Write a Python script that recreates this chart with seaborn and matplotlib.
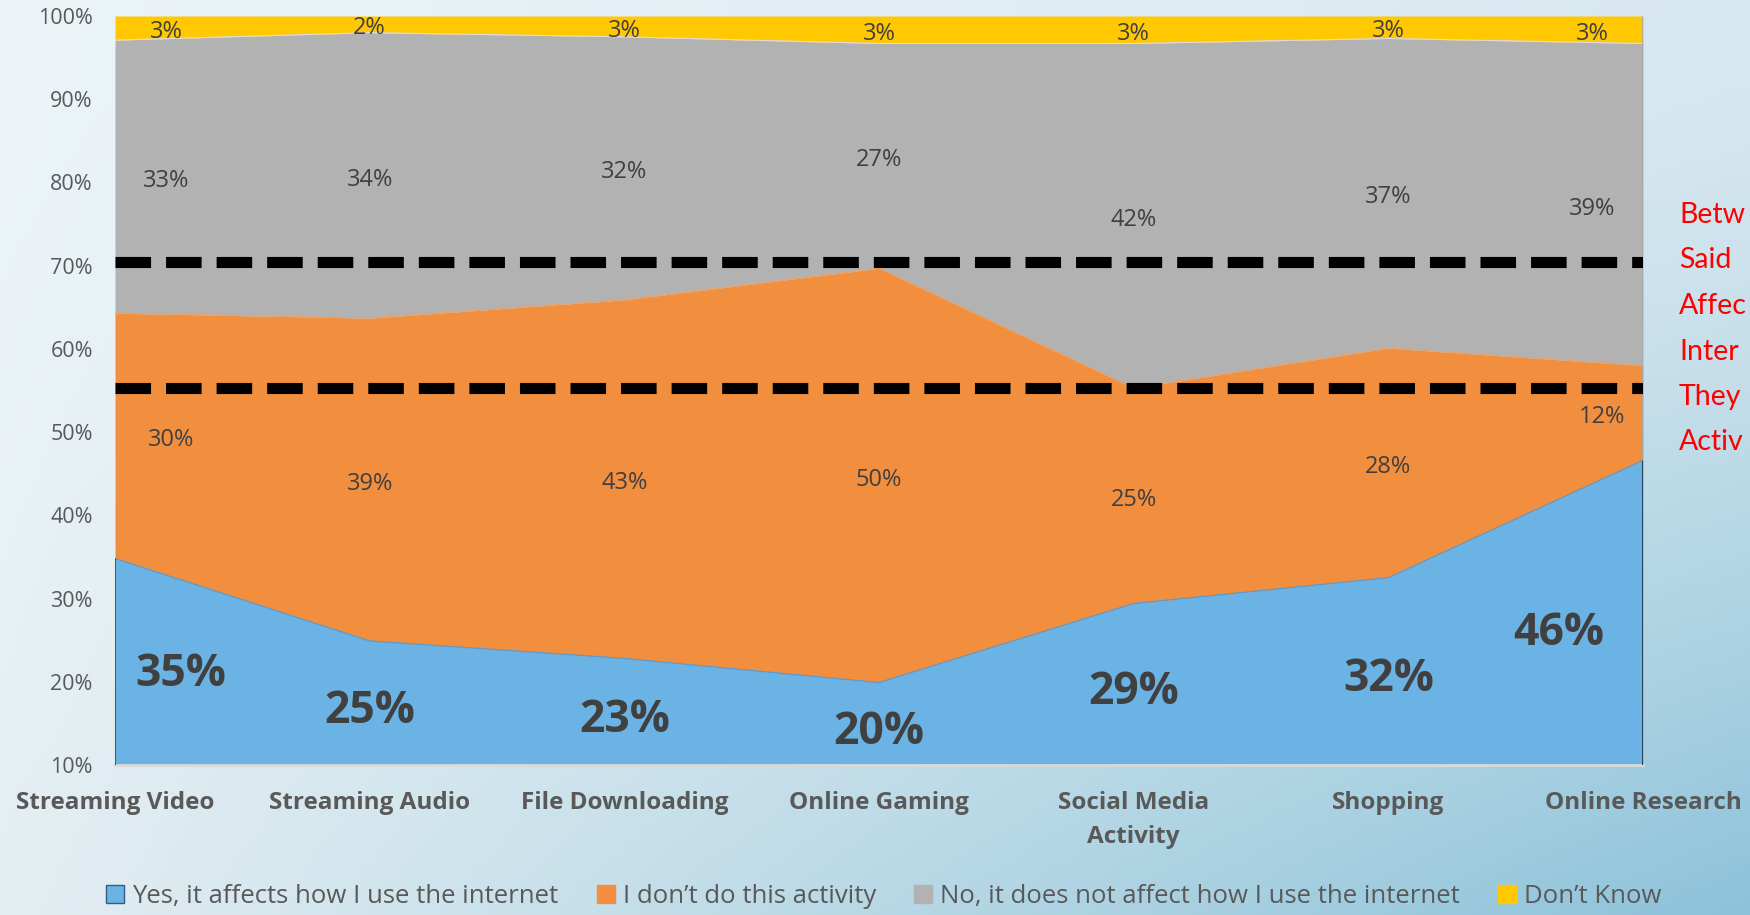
import numpy as np
import matplotlib
matplotlib.use("Agg")
import matplotlib.pyplot as plt
import seaborn as sns
from matplotlib.patches import Patch

categories = ["Streaming Video", "Streaming Audio", "File Downloading", "Online Gaming",
              "Social Media\nActivity", "Shopping", "Online Research"]
yes_affects = [34.8, 24.9, 22.8, 19.9, 29.4, 32.5, 46.6]
dont_do = [29.5, 38.8, 43.1, 49.8, 25.9, 27.6, 11.4]
no_affect = [32.8, 34.3, 31.6, 27.0, 41.4, 37.2, 38.7]
dont_know = [2.9, 2.0, 2.5, 3.3, 3.3, 2.7, 3.3]
labels_yes = ["35%", "25%", "23%", "20%", "29%", "32%", "46%"]
labels_dont = ["30%", "39%", "43%", "50%", "25%", "28%", "12%"]
labels_no = ["33%", "34%", "32%", "27%", "42%", "37%", "39%"]
labels_dk = ["3%", "2%", "3%", "3%", "3%", "3%", "3%"]
series_names = ["Yes, it affects how I use the internet", "I don\u2019t do this activity",
                "No, it does not affect how I use the internet", "Don\u2019t Know"]
series_colors = ["#6cb3e5", "#f28f3f", "#b2b2b2", "#ffc800"]
ref_lines = [55.3, 70.5]
y_ticks = [10, 20, 30, 40, 50, 60, 70, 80, 90, 100]
# the annotation is cut off by the right edge of the original slide
note_lines = ["Betw", "Said", "Affec", "Inter", "They", "Activ"]

sns.set_theme(style="white")
plt.rcParams['font.family'] = ['Open Sans', 'DejaVu Sans']

W, H = 1750, 915
fig = plt.figure(figsize=(W / 100, H / 100), dpi=100)

# background gradient
bg = fig.add_axes([0, 0, 1, 1], zorder=-10)
nx, ny = 300, 160
xx, yy = np.meshgrid(np.linspace(0, 1, nx), np.linspace(0, 1, ny))
ty = yy ** 1.5
TL = np.array([236, 244, 248]) / 255
TR = np.array([216, 232, 240]) / 255
BL = np.array([228, 238, 242]) / 255
BR = np.array([140, 194, 217]) / 255
img = (TL[None, None] * ((1 - xx) * (1 - ty))[..., None] + TR[None, None] * (xx * (1 - ty))[..., None]
       + BL[None, None] * ((1 - xx) * ty)[..., None] + BR[None, None] * (xx * ty)[..., None])
bg.imshow(img, aspect='auto', extent=[0, 1, 1, 0])
bg.axis('off')

top_px, bot_px = 16, 765
ax = fig.add_axes([115 / W, 1 - bot_px / H, (1643 - 115) / W, (bot_px - top_px) / H])
ax.set_facecolor('none')
x = np.arange(len(categories))
series = [yes_affects, dont_do, no_affect, dont_know]
ax.stackplot(x, *series, colors=series_colors, linewidth=0)
cum = np.cumsum(np.array(series), axis=0)
# thin boundary lines
ax.plot(x, cum[0], color="#5a9bd0", linewidth=1.0, zorder=3)
ax.plot(x, cum[1], color="#e8a36a", linewidth=0.8, zorder=3)
ax.plot(x, cum[2], color="#dcdcdc", linewidth=0.8, zorder=3)
ax.plot([0, 0], [10, cum[0][0]], color="#2f5f86", lw=1.5, zorder=3)
ax.plot([6, 6], [10, cum[0][-1]], color="#1e3448", lw=2, zorder=3)
ax.plot([6, 6], [cum[0][-1], 100], color="#a8a8a8", lw=1.2, zorder=3)

for yv in ref_lines:
    ax.plot([0, 6], [yv, yv], color="black", lw=8, dashes=(3.2, 1.35), solid_capstyle='butt',
            dash_capstyle='butt', zorder=4)

ax.set_xlim(0, 6)
ax.set_ylim(10, 100)
ax.set_yticks(y_ticks)
ax.set_yticklabels([f"{v}%" for v in y_ticks])
ax.set_xticks(x)
ax.set_xticklabels(categories, fontweight='bold', fontsize=17.5, color="#595959", linespacing=1.55)
ax.tick_params(axis='y', length=0, pad=16, labelsize=15.5, labelcolor="#595959")
ax.tick_params(axis='x', length=9, width=1.5, color="#d9d9d9", direction='out', pad=10)
for s in ['top', 'right', 'left']:
    ax.spines[s].set_visible(False)
ax.spines['bottom'].set_color("#d9d9d9")
ax.spines['bottom'].set_linewidth(2)
ax.grid(False)

def lab_x(i, first_off, last_off):
    if i == 0:
        return i + first_off
    if i == len(categories) - 1:
        return i + last_off
    return float(i)

txtc = "#404040"
bottoms = [np.full(len(x), 10.0), cum[0], cum[1], cum[2]]
tops = [cum[0], cum[1], cum[2], cum[3]]
all_labels = [labels_yes, labels_dont, labels_no, labels_dk]
for k in range(4):
    for i in range(len(x)):
        if k == 0:
            lx = lab_x(i, 0.26, -0.33)
            b = np.interp(lx, x, bottoms[k])
            t = np.interp(lx, x, tops[k])
            ly = (b + t) / 2 - (0.2 if i in (0, len(x) - 1) else 1.0)
            ax.text(lx, ly, all_labels[k][i], ha='center', va='center', fontsize=32,
                    fontweight='bold', color=txtc, zorder=5)
        else:
            lx = lab_x(i, 0.2 if k != 1 else 0.22, -0.2 if k != 1 else -0.16)
            ly = (bottoms[k][i] + tops[k][i]) / 2 - 0.5
            ax.text(lx, ly, all_labels[k][i], ha='center', va='center', fontsize=17,
                    color=txtc, zorder=5)

# red annotation (clipped by the slide edge in the original)
note_texts = []
for j, line in enumerate(note_lines):
    note_texts.append(fig.text(1679 / W, 1 - (215 + j * 45.5) / H, line, color="#ff0000",
                               fontsize=23, family=['Lato', 'DejaVu Sans'], ha='left', va='center'))

handles = [Patch(facecolor=c, edgecolor=e, linewidth=1) for c, e in
           zip(series_colors, ["#2f5f86", "#f28f3f", "#b2b2b2", "#ffc800"])]
leg = ax.legend(handles, series_names, loc='upper center', bbox_to_anchor=(884 / W, 1 - 884 / H),
                bbox_transform=fig.transFigure, ncol=4, frameon=False, fontsize=18.5,
                handlelength=0.7, handleheight=0.7, handletextpad=0.3, columnspacing=1.5,
                labelcolor="#595959", borderpad=0.0, borderaxespad=0.0)

fig.canvas.draw()
r = fig.canvas.get_renderer()
fs = 23
while fs > 14:
    over = max(t.get_window_extent(r).x1 for t in note_texts)
    if over <= W - 2:
        break
    fs -= 0.5
    for t in note_texts:
        t.set_fontsize(fs)
    fig.canvas.draw()

fig.savefig("out.png", dpi=100)
